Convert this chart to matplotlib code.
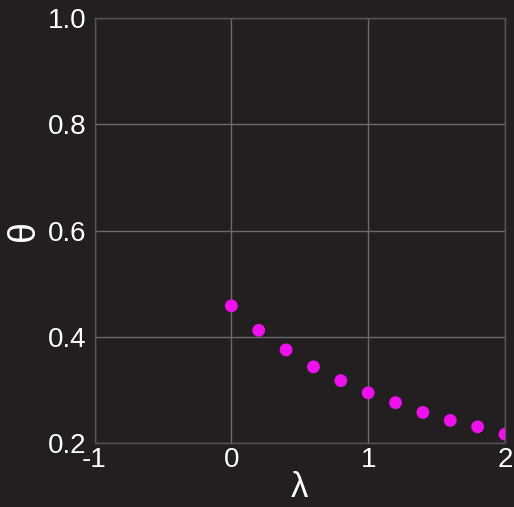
import matplotlib
matplotlib.use("Agg")
import matplotlib.pyplot as plt

# decay of theta with lambda
lam = [0.0, 0.2, 0.4, 0.6, 0.8, 1.0, 1.2, 1.4, 1.6, 1.8, 2.0]
theta = [0.458, 0.412, 0.375, 0.343, 0.317, 0.294, 0.2755, 0.257, 0.242, 0.230, 0.216]

x_ticks = [-1, 0, 1, 2]
x_tick_labels = ["-1", "0", "1", "2"]
y_ticks = [0.2, 0.4, 0.6, 0.8, 1.0]
y_tick_labels = ["0.2", "0.4", "0.6", "0.8", "1.0"]

bg = "#231f20"
plt.rcParams["font.family"] = ["Liberation Sans", "DejaVu Sans"]

fig = plt.figure(figsize=(5.14, 5.07), dpi=100, facecolor=bg)
ax = fig.add_axes([94.5 / 514, 1 - 442.7 / 507, (505 - 94.5) / 514, (442.7 - 18.4) / 507])
ax.set_facecolor(bg)

ax.scatter(lam, theta, s=85, color="#ee11ee", edgecolors="none", zorder=3, clip_on=True)

ax.set_xlim(-1, 2)
ax.set_ylim(0.2, 1.0)
ax.set_xticks(x_ticks)
ax.set_xticklabels(x_tick_labels)
ax.set_yticks(y_ticks)
ax.set_yticklabels(y_tick_labels)
ax.tick_params(length=0, colors="white", labelsize=20, pad=6)
ax.tick_params(axis="x", pad=3)
ax.grid(True, color="#6c6a6a", linewidth=1.0, zorder=0)
for s in ax.spines.values():
    s.set_color("#555353")
    s.set_linewidth(1.0)

ax.set_xlabel("λ", color="white", fontsize=25, labelpad=-1)
ax.set_ylabel("θ", color="white", fontsize=27, labelpad=4)

fig.savefig("out.png", dpi=100, facecolor=bg)
